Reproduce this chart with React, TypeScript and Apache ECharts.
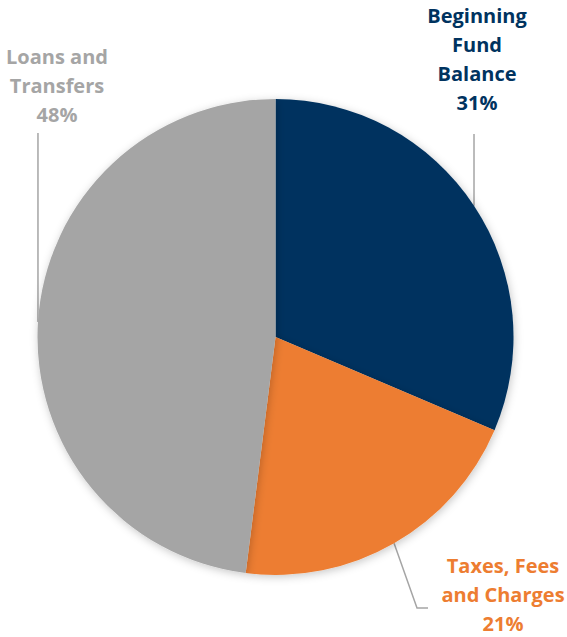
import React, { useEffect, useRef } from "react";
import * as echarts from "echarts";

const categories = ["Beginning Fund Balance", "Taxes, Fees and Charges", "Loans and Transfers"];
const labelTexts = ["Beginning\nFund\nBalance", "Taxes, Fees\nand Charges", "Loans and\nTransfers"];
const values = [31.4, 20.6, 48.0];
const colors = ["#00335F", "#ED7D31", "#A5A5A5"];

const W = 567;
const H = 637;
const CX = 275.5;
const CY = 337;
const R = 238;
const START = 90;

// label anchors (layout only)
const labelPos = [
  { x: 477, y: 1 },
  { x: 503, y: 551 },
  { x: 57, y: 42 },
];

export default function App() {
  const ref = useRef<HTMLDivElement>(null);
  useEffect(() => {
    document.body.style.margin = "0";
    if (!ref.current) return;
    const chart = echarts.init(ref.current, null, { renderer: "svg" });
    const total = values.reduce((a, b) => a + b, 0);
    let acc = 0;
    const edges = values.map((v) => {
      const mid = START - ((acc + v / 2) / total) * 360;
      acc += v;
      const rad = (mid * Math.PI) / 180;
      return [CX + R * Math.cos(rad), CY - R * Math.sin(rad)];
    });
    const lines = [
      [edges[0], [edges[0][0], 134]],
      [edges[1], [417, 608], [428, 608]],
      [edges[2], [edges[2][0], 133]],
    ];
    chart.setOption({
      animation: false,
      series: [
        {
          type: "pie",
          center: [CX, CY],
          radius: R,
          startAngle: START,
          clockwise: true,
          data: categories.map((c, i) => ({
            name: c,
            value: values[i],
            itemStyle: { color: colors[i] },
          })),
          itemStyle: {
            shadowBlur: 8,
            shadowColor: "rgba(0,0,0,0.22)",
            shadowOffsetX: 1,
            shadowOffsetY: 2,
          },
          label: { show: false },
          labelLine: { show: false },
          emphasis: { disabled: true },
        },
      ],
      graphic: [
        ...lines.map((pts) => ({
          type: "polyline",
          shape: { points: pts },
          style: { stroke: "#A5A5A5", lineWidth: 1.5, fill: "none" },
          silent: true,
        })),
        ...values.map((v, i) => ({
          type: "text",
          x: labelPos[i].x,
          y: labelPos[i].y,
          silent: true,
          style: {
            text: `${labelTexts[i]}\n${Math.round((v / total) * 100)}%`,
            fill: colors[i],
            fontFamily: "Open Sans",
            fontWeight: "bold",
            fontSize: 20,
            lineHeight: 29,
            align: "center",
            verticalAlign: "top",
          },
        })),
      ],
    });
    return () => chart.dispose();
  }, []);
  return <div ref={ref} style={{ width: W, height: H }} />;
}
